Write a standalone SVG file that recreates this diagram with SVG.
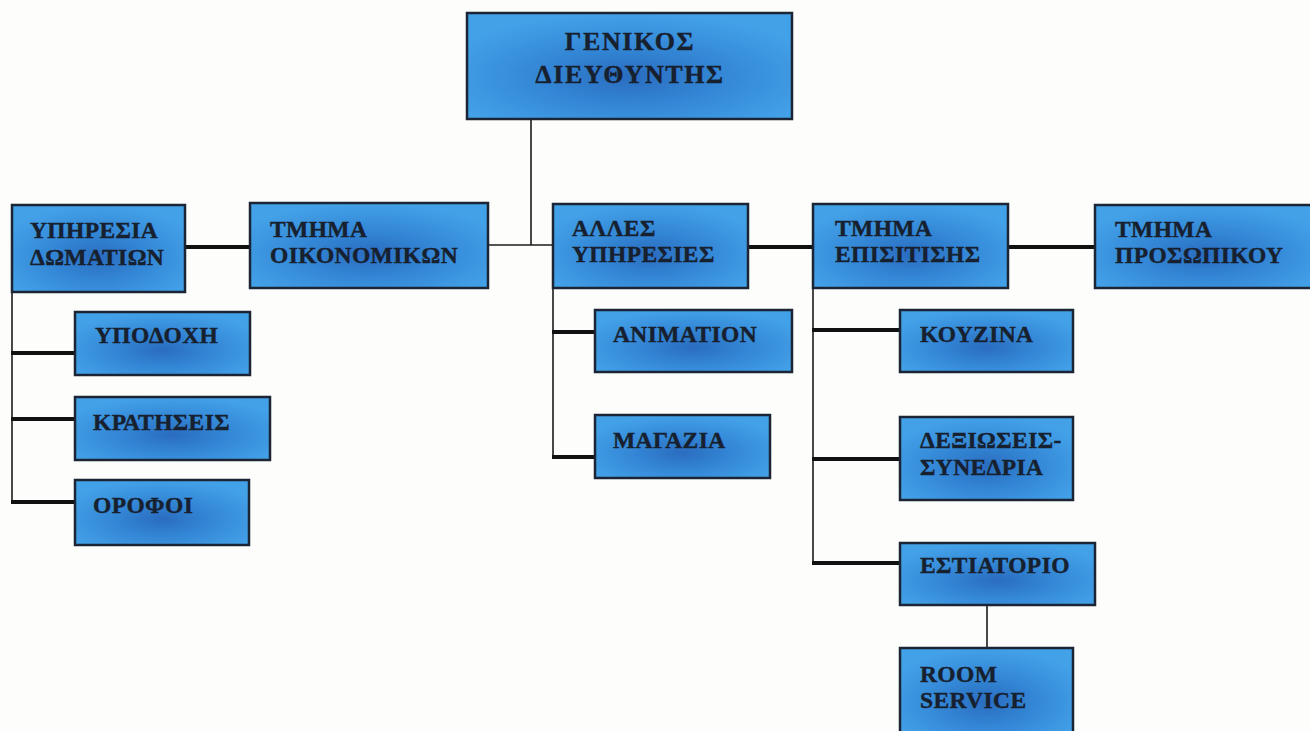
<svg xmlns="http://www.w3.org/2000/svg" width="1310" height="731" viewBox="0 0 1310 731">
<style>
.box{fill:url(#blu);stroke:#1b2535;stroke-width:2.5}
.t{font-family:"Liberation Serif","Times New Roman",serif;font-weight:bold;font-size:23.5px;fill:#17202e;stroke:#17202e;stroke-width:0.4;letter-spacing:0.4px}
.tt{font-size:26px;letter-spacing:1.6px;text-anchor:middle}
.thin{stroke:#1b1b1b;stroke-width:1.6;fill:none}
.thick{stroke:#111;stroke-width:4;fill:none}
</style>
<defs>
<radialGradient id="blu" cx="0.5" cy="0.6" r="0.6">
<stop offset="0" stop-color="#2a6cc0"/>
<stop offset="0.45" stop-color="#3386d5"/>
<stop offset="1" stop-color="#43a1e8"/>
</radialGradient>
</defs>
<rect width="1310" height="731" fill="#fdfdfb"/>
<g id="connectors">
<polyline class="thin" points="531,119 531,245"/>
<line class="thin" x1="488" y1="245" x2="553" y2="245"/>
<line class="thick" x1="185" y1="247" x2="250" y2="247"/>
<line class="thick" x1="748" y1="247" x2="813" y2="247"/>
<line class="thick" x1="1008" y1="247" x2="1095" y2="247"/>
<line class="thin" x1="12" y1="292" x2="12" y2="503"/>
<line class="thick" x1="11" y1="353" x2="75" y2="353"/>
<line class="thick" x1="11" y1="419" x2="75" y2="419"/>
<line class="thick" x1="11" y1="502" x2="75" y2="502"/>
<line class="thin" x1="553" y1="288" x2="553" y2="458"/>
<line class="thick" x1="552" y1="332" x2="595" y2="332"/>
<line class="thick" x1="552" y1="457" x2="595" y2="457"/>
<line class="thin" x1="813" y1="288" x2="813" y2="565"/>
<line class="thick" x1="812" y1="330" x2="900" y2="330"/>
<line class="thick" x1="812" y1="459" x2="900" y2="459"/>
<line class="thick" x1="812" y1="563" x2="900" y2="563"/>
<line class="thin" x1="987" y1="605" x2="987" y2="648"/>
</g>
<g id="n-genikos"><rect class="box" x="467" y="13" width="325" height="106"/><text class="t tt" x="630" y="50">ΓΕΝΙΚΟΣ</text><text class="t tt" x="630" y="83">ΔΙΕΥΘΥΝΤΗΣ</text></g>
<g id="n-domation"><rect class="box" x="12" y="205" width="173" height="87"/><text class="t" x="30" y="238">ΥΠΗΡΕΣΙΑ</text><text class="t" x="30" y="265">ΔΩΜΑΤΙΩΝ</text></g>
<g id="n-oikonomikon"><rect class="box" x="250" y="203" width="238" height="85"/><text class="t" x="270" y="237">ΤΜΗΜΑ</text><text class="t" x="270" y="263">ΟΙΚΟΝΟΜΙΚΩΝ</text></g>
<g id="n-alles"><rect class="box" x="553" y="204" width="195" height="84"/><text class="t" x="572" y="236">ΑΛΛΕΣ</text><text class="t" x="572" y="262">ΥΠΗΡΕΣΙΕΣ</text></g>
<g id="n-episitisis"><rect class="box" x="813" y="204" width="195" height="84"/><text class="t" x="835" y="236">ΤΜΗΜΑ</text><text class="t" x="835" y="262">ΕΠΙΣΙΤΙΣΗΣ</text></g>
<g id="n-prosopikou"><rect class="box" x="1095" y="205" width="220" height="83"/><text class="t" x="1115" y="237">ΤΜΗΜΑ</text><text class="t" x="1115" y="263">ΠΡΟΣΩΠΙΚΟΥ</text></g>
<g id="n-ypodoxi"><rect class="box" x="75" y="312" width="175" height="63"/><text class="t" x="95" y="343">ΥΠΟΔΟΧΗ</text></g>
<g id="n-kratiseis"><rect class="box" x="75" y="397" width="195" height="63"/><text class="t" x="93" y="430">ΚΡΑΤΗΣΕΙΣ</text></g>
<g id="n-orofoi"><rect class="box" x="75" y="480" width="174" height="65"/><text class="t" x="93" y="513">ΟΡΟΦΟΙ</text></g>
<g id="n-animation"><rect class="box" x="595" y="310" width="197" height="62"/><text class="t" x="613" y="342">ANIMATION</text></g>
<g id="n-magazia"><rect class="box" x="595" y="415" width="175" height="63"/><text class="t" x="613" y="448">ΜΑΓΑΖΙΑ</text></g>
<g id="n-kouzina"><rect class="box" x="900" y="310" width="173" height="62"/><text class="t" x="920" y="342">ΚΟΥΖΙΝΑ</text></g>
<g id="n-dexioseis"><rect class="box" x="900" y="417" width="173" height="83"/><text class="t" x="920" y="448">ΔΕΞΙΩΣΕΙΣ-</text><text class="t" x="920" y="475">ΣΥΝΕΔΡΙΑ</text></g>
<g id="n-estiatorio"><rect class="box" x="900" y="543" width="195" height="62"/><text class="t" x="920" y="573">ΕΣΤΙΑΤΟΡΙΟ</text></g>
<g id="n-roomservice"><rect class="box" x="900" y="648" width="173" height="90"/><text class="t" x="920" y="682">ROOM</text><text class="t" x="920" y="708">SERVICE</text></g>
</svg>
